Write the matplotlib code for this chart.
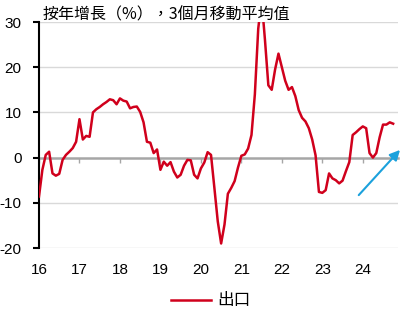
import matplotlib
matplotlib.use("Agg")
import matplotlib.pyplot as plt
import numpy as np

title = "按年增長（%），3個月移動平均值"
series_name = "出口"
start_year = 2016
exports = [
    -8.6, -2.7, 0.6, 1.3, -3.5, -4.0, -3.6, -0.5, 0.6, 1.3, 2.1, 3.5,
    8.5, 4.0, 4.8, 4.6, 10.0, 10.7, 11.2, 11.8, 12.3, 12.9, 12.7, 11.8,
    13.1, 12.6, 12.4, 10.9, 11.2, 11.3, 10.1, 7.8, 3.5, 3.3, 1.0, 1.8,
    -2.7, -0.9, -1.8, -1.0, -3.1, -4.4, -3.8, -1.8, -0.5, -0.6, -3.8, -4.6,
    -2.4, -1.1, 1.2, 0.6, -6.7, -14.1, -19.0, -14.8, -8.0, -6.7, -5.2, -2.2,
    0.4, 0.7, 2.0, 5.0, 14.0, 28.5, 35.0, 26.0, 16.0, 15.0, 19.5, 23.0,
    20.0, 17.0, 15.0, 15.6, 13.6, 10.5, 8.8, 8.0, 6.5, 4.0, 0.5, -7.6,
    -7.8, -7.2, -3.5, -4.6, -5.0, -5.7, -5.1, -3.0, -1.0, 5.0, 5.6, 6.3,
    6.9, 6.5, 1.0, 0.0, 1.0, 4.5, 7.3, 7.3, 7.8, 7.5,
]
year_labels = ["16", "17", "18", "19", "20", "21", "22", "23", "24"]
y_ticks = [-20, -10, 0, 10, 20, 30]
arrow_start = (2023.9, -8.3)
arrow_end = (2024.92, 1.7)

x = start_year + np.arange(len(exports)) / 12.0
years = [start_year + i for i in range(len(year_labels))]

fig = plt.figure(figsize=(4.08, 3.14), dpi=100)
ax = fig.add_axes([39/408, 1-248/314, (398-39)/408, (248-22)/314])

cjk = ["Noto Sans CJK TC", "DejaVu Sans"]
num_font = "Liberation Sans"

ax.set_xlim(2016.0, 2024.87)
ax.set_ylim(-20, 30)

for yv in y_ticks:
    if yv != 0:
        ax.axhline(yv, color="#d9d9d9", lw=1.0, zorder=1)

line, = ax.plot(x, exports, color="#d0001c", lw=1.8, zorder=3, label=series_name)

ax.spines["bottom"].set_position(("data", 0))
ax.spines["bottom"].set_color("#a6a6a6")
ax.spines["bottom"].set_linewidth(1.8)
ax.spines["bottom"].set_zorder(2)
ax.set_xticks(years)
ax.tick_params(axis="x", direction="out", length=3.5, width=1, color="#a6a6a6", labelbottom=False)

ax.spines["top"].set_visible(False)
ax.spines["right"].set_visible(False)
ax.spines["left"].set_color("black")
ax.spines["left"].set_linewidth(1.5)
ax.set_yticks(y_ticks)
ax.set_yticklabels([str(v) for v in y_ticks], fontfamily=num_font, fontsize=11)
ax.tick_params(axis="y", direction="out", length=4.5, width=1.5, color="black", pad=8)

sec = ax.secondary_xaxis(0.0)
sec.set_xticks(years)
sec.set_xticklabels(year_labels, fontfamily=num_font, fontsize=11)
sec.tick_params(length=0, pad=11)
sec.spines["bottom"].set_visible(False)

ax.annotate("", xy=arrow_end, xytext=arrow_start,
            arrowprops=dict(arrowstyle="-|>,head_length=0.6,head_width=0.3",
                            color="#1ba1dc", lw=1.5, shrinkA=0, shrinkB=0),
            annotation_clip=False, zorder=5)

fig.text(43/408, 1-15/314, title, fontfamily=cjk, fontsize=11.5, va="center", ha="left")

fig.legend(handles=[line], labels=[series_name], loc="center",
           bbox_to_anchor=(211/408, 1-301/314), frameon=False,
           prop={"family": cjk, "size": 12}, handlelength=2.4, handletextpad=0.4)

fig.savefig("out.png", dpi=100)
